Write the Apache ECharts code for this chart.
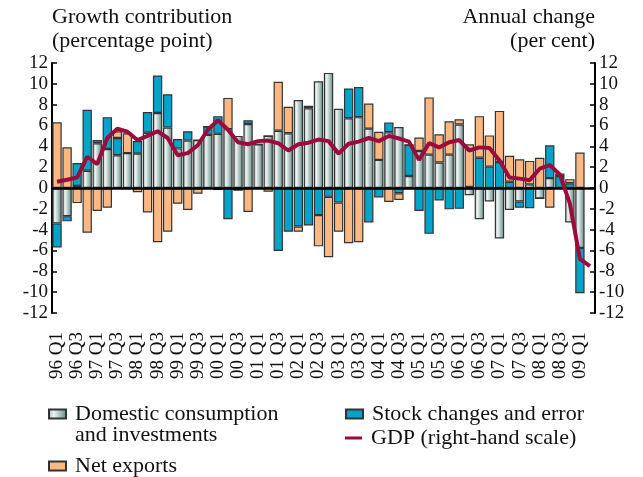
<!DOCTYPE html>
<html>
<head>
<meta charset="utf-8">
<script src="https://cdn.jsdelivr.net/npm/echarts@6/dist/echarts.min.js"></script>
<style>
html,body{margin:0;padding:0;background:#fff;}
#c{width:643px;height:477px;}
</style>
</head>
<body>
<div id="c"></div>
<script>
const categories = [
 '96 Q1','96 Q2','96 Q3','96 Q4','97 Q1','97 Q2','97 Q3','97 Q4',
 '98 Q1','98 Q2','98 Q3','98 Q4','99 Q1','99 Q2','99 Q3','99 Q4',
 '00 Q1','00 Q2','00 Q3','00 Q4','01 Q1','01 Q2','01 Q3','01 Q4',
 '02 Q1','02 Q2','02 Q3','02 Q4','03 Q1','03 Q2','03 Q3','03 Q4',
 '04 Q1','04 Q2','04 Q3','04 Q4','05 Q1','05 Q2','05 Q3','05 Q4',
 '06 Q1','06 Q2','06 Q3','06 Q4','07 Q1','07 Q2','07 Q3','07 Q4',
 '08 Q1','08 Q2','08 Q3','08 Q4','09 Q1','09 Q2'
];
const domestic = [
 -3.4,-2.7,0.2,1.65,4.3,3.75,3.15,3.35,3.3,5.3,7.2,5.8,3.8,4.55,4.6,5.1,
 5.2,5.65,5.0,6.15,4.2,5.0,5.5,5.25,8.45,7.65,10.25,11.05,7.6,6.7,6.8,5.7,
 2.7,5.35,5.85,1.15,3.55,3.2,2.45,3.2,6.1,-0.7,-3.0,-1.3,-4.85,-2.1,-1.3,0.35,
 -1.0,0.95,0,-3.3,-5.75
];
const stock = [
 -2.3,-0.5,2.2,5.85,0.3,3.05,1.65,0,1.2,2.0,3.6,3.2,0.9,0.9,0,0.8,
 1.7,-3.0,-0.2,0.35,0,0,-6.05,-4.2,-3.7,-3.6,-2.6,-0.85,-1.4,2.85,2.9,-3.3,
 -0.9,0.95,-0.5,3.0,-2.2,-4.4,-1.2,-2.05,-2.0,0.1,2.9,2.05,2.5,0.6,-0.6,-1.95,
 0,3.15,1.15,0.45,-4.35
];
const netExports = [
 6.3,3.9,-1.45,-4.3,-2.2,-1.9,0.65,1.9,-0.4,-2.35,-5.2,-4.2,-1.5,-2.1,-0.55,0,
 -0.2,3.0,0,-2.3,0,-0.35,4.7,2.55,-0.5,0.25,-3.0,-5.8,-2.8,-5.3,-5.2,2.4,
 2.7,-1.35,-0.65,0,1.3,5.5,2.7,3.2,0.5,4.1,4.0,3.0,4.9,2.5,2.75,2.25,
 2.9,-1.9,0.25,0.4,3.4
];
const gdp = [
 0.6,0.8,1.0,3.0,2.3,4.8,5.7,5.4,4.6,5.0,5.45,4.8,3.15,3.35,4.1,5.6,
 6.5,5.6,4.4,4.2,4.5,4.55,4.3,3.6,4.2,4.35,4.65,4.5,3.3,4.25,4.45,4.8,
 4.5,5.0,4.75,4.45,2.7,4.3,3.9,4.4,4.6,3.6,3.9,3.85,2.65,1.0,0.9,0.75,
 1.85,2.2,1.3,-1.5,-6.8,-7.5
];

const FONT = '"Liberation Serif", "Times New Roman", serif';
const chart = echarts.init(document.getElementById('c'), null, {renderer:'canvas'});
const border = {borderColor:'#333', borderWidth:1.2};
const domColor = new echarts.graphic.LinearGradient(0,0,1,0,[
  {offset:0,color:'#9fb9b5'},{offset:0.3,color:'#eef3f2'},{offset:1,color:'#5d8b86'}
]);
const axisY = (pos) => ({
  type:'value', position:pos, min:-12, max:12, interval:2,
  axisLine:{show:true, lineStyle:{color:'#000', width:2}},
  axisTick:{show:true, inside:true, length:5, lineStyle:{color:'#000', width:1.5}},
  splitLine:{show:false},
  axisLabel:{fontFamily:FONT, fontSize:19, color:'#111', margin:4}
});
const legendText = {fontFamily:FONT, fontSize:22, color:'#111', padding:[0,0,0,4]};
chart.setOption({
  animation:false,
  backgroundColor:'#fff',
  grid:{left:52, right:48, top:63, bottom:164, containLabel:false},
  xAxis:{
    type:'category', data:categories,
    axisLine:{show:false, onZero:false},
    axisTick:{show:false},
    axisLabel:{interval:1, rotate:90, fontFamily:FONT, fontSize:19, color:'#111', margin:19}
  },
  yAxis:[axisY('left'), axisY('right')],
  legend:[
    {left:48, top:403, padding:0, icon:'rect', itemWidth:17, itemHeight:9, data:['Domestic consumption and investments'],
     formatter:()=> 'Domestic consumption', textStyle:legendText},
    {left:48, top:455, padding:0, icon:'rect', itemWidth:17, itemHeight:9, data:['Net exports'], textStyle:legendText},
    {left:345, top:403, padding:0, icon:'rect', itemWidth:17, itemHeight:9, data:['Stock changes and error'], textStyle:legendText},
    {left:345, top:427, padding:0, icon:'rect', itemWidth:17, itemHeight:3, data:['GDP (right-hand scale)'], textStyle:legendText}
  ],
  graphic:[
    {type:'text', left:52, top:6, style:{text:'Growth contribution', font:'22px '+FONT, fill:'#111'}},
    {type:'text', left:52, top:30, style:{text:'(percentage point)', font:'22px '+FONT, fill:'#111'}},
    {type:'text', right:48, top:6, style:{text:'Annual change', font:'22px '+FONT, fill:'#111'}},
    {type:'text', right:48, top:30, style:{text:'(per cent)', font:'22px '+FONT, fill:'#111'}},
    {type:'text', left:75, top:424, style:{text:'and investments', font:'22px '+FONT, fill:'#111'}}
  ],
  series:[
    {name:'Domestic consumption and investments', type:'bar', stack:'a', data:domestic, barCategoryGap:'7%',
     itemStyle:Object.assign({color:domColor}, border)},
    {name:'Stock changes and error', type:'bar', stack:'a', data:stock,
     itemStyle:Object.assign({color:'#05a3c9'}, border)},
    {name:'Net exports', type:'bar', stack:'a', data:netExports,
     itemStyle:Object.assign({color:'#fdb882'}, border),
     markLine:{silent:true, symbol:['none','none'], label:{show:false},
       lineStyle:{color:'#000', width:2.5, type:'solid'}, data:[{yAxis:0}]}},
    {name:'GDP (right-hand scale)', type:'line', yAxisIndex:1, data:gdp, symbol:'none',
     lineStyle:{color:'#9b0c3c', width:4}, itemStyle:{color:'#9b0c3c'}, z:5}
  ]
});
</script>
</body>
</html>
